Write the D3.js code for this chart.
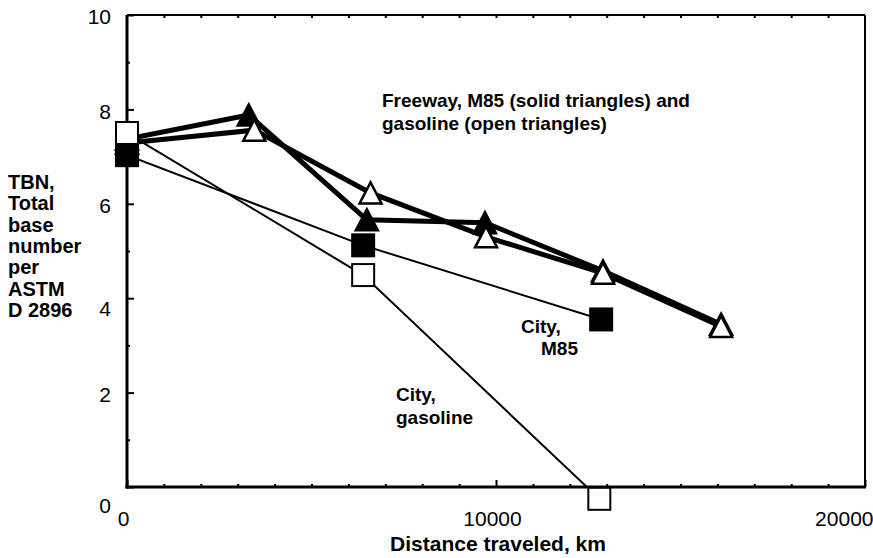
<!DOCTYPE html>
<html>
<head>
<meta charset="utf-8">
<script src="https://cdn.jsdelivr.net/npm/d3@7"></script>
<style>
  html, body { margin: 0; padding: 0; background: #fff; }
  svg { display: block; font-family: "Liberation Sans", Arial, sans-serif; }
</style>
</head>
<body>
<div id="chart"></div>
<script>
// TBN vs distance, four test series
const distM85Fwy = [0, 3300, 6500, 9700, 12900, 16100];
const tbnM85Fwy = [7.37, 7.88, 5.66, 5.6, 4.58, 3.45];
const distGasFwy = [0, 3450, 6600, 9730, 12900, 16100];
const tbnGasFwy = [7.29, 7.56, 6.23, 5.3, 4.53, 3.4];
const distM85City = [0, 6400, 12850];
const tbnM85City = [7.03, 5.12, 3.55];
const distGasCity = [0, 6400, 12800];
const tbnGasCity = [7.5, 4.49, -0.25];

const xTicks = [0, 10000, 20000];
const yTicks = [0, 2, 4, 6, 8, 10];
const yTitle = ['TBN,', 'Total', 'base', 'number', 'per', 'ASTM', 'D 2896'];
const xTitle = 'Distance traveled, km';

const width = 873, height = 558;
const plot = { left: 127, right: 865, top: 15, bottom: 487 };

const svg = d3.select('#chart').append('svg')
  .attr('width', width)
  .attr('height', height);

const x = d3.scaleLinear().domain([0, 20000]).range([plot.left, plot.right]);
const y = d3.scaleLinear().domain([0, 10]).range([plot.bottom, plot.top]);

const zip = (xs, ys) => xs.map((d, i) => [d, ys[i]]);

svg.append('clipPath').attr('id', 'clip')
  .append('rect')
  .attr('x', plot.left).attr('y', plot.top)
  .attr('width', plot.right - plot.left)
  .attr('height', plot.bottom - plot.top);

// minor ticks
const minorX = d3.range(0, 20001, 1000).filter(d => !xTicks.includes(d));
const minorY = d3.range(0, 11, 1).filter(d => !yTicks.includes(d));

svg.append('g')
  .attr('transform', `translate(0,${plot.bottom})`)
  .call(d3.axisBottom(x).tickValues(minorX).tickSize(-3).tickFormat(''))
  .call(g => g.select('.domain').remove());

svg.append('g')
  .attr('transform', `translate(0,${plot.top})`)
  .call(d3.axisTop(x).tickValues(d3.range(1000, 20000, 1000)).tickSize(-3).tickFormat(''))
  .call(g => g.select('.domain').remove());

svg.append('g')
  .attr('transform', `translate(${plot.left},0)`)
  .call(d3.axisLeft(y).tickValues(minorY).tickSize(-3).tickFormat(''))
  .call(g => g.select('.domain').remove());

// major ticks with labels
const xAxis = svg.append('g')
  .attr('transform', `translate(0,${plot.bottom})`)
  .call(d3.axisBottom(x).tickValues(xTicks).tickSize(-7).tickSizeOuter(0).tickPadding(24).tickFormat(d3.format('d')));
xAxis.select('.domain').remove();
xAxis.selectAll('text')
  .attr('text-anchor', d => d === 20000 ? 'end' : 'middle')
  .attr('dx', d => d === 20000 ? 8 : -4)
  .attr('font-size', '21px')
  .attr('font-family', '"Liberation Sans", Arial, sans-serif')
  .attr('fill', '#000');

const yAxis = svg.append('g')
  .attr('transform', `translate(${plot.left},0)`)
  .call(d3.axisLeft(y).tickValues(yTicks).tickSize(-7).tickSizeOuter(0).tickPadding(16));
yAxis.select('.domain').remove();
yAxis.selectAll('text')
  .attr('dy', d => d === 0 ? '1.2em' : (d === 4 ? '0.8em' : '0.42em'))
  .attr('font-size', '21px')
  .attr('font-family', '"Liberation Sans", Arial, sans-serif')
  .attr('fill', '#000');

svg.selectAll('.tick line').attr('stroke', '#000').attr('stroke-width', 2);

// frame
svg.append('line')
  .attr('x1', plot.left).attr('x2', plot.right)
  .attr('y1', plot.top).attr('y2', plot.top)
  .attr('stroke', '#000').attr('stroke-width', 2);
svg.append('line')
  .attr('x1', plot.right).attr('x2', plot.right)
  .attr('y1', plot.top).attr('y2', plot.bottom)
  .attr('stroke', '#000').attr('stroke-width', 2);
svg.append('line')
  .attr('x1', plot.left).attr('x2', plot.left)
  .attr('y1', plot.top).attr('y2', plot.bottom + 1.5)
  .attr('stroke', '#000').attr('stroke-width', 3);
svg.append('line')
  .attr('x1', plot.left - 1.5).attr('x2', plot.right + 1)
  .attr('y1', plot.bottom).attr('y2', plot.bottom)
  .attr('stroke', '#000').attr('stroke-width', 3);

const line = d3.line().x(d => x(d[0])).y(d => y(d[1]));
const marks = svg.append('g');

function drawLine(pts, w) {
  marks.append('path')
    .datum(pts)
    .attr('clip-path', 'url(#clip)')
    .attr('d', line)
    .attr('fill', 'none')
    .attr('stroke', '#000')
    .attr('stroke-width', w)
    .attr('stroke-linejoin', 'miter');
}

function drawTriangles(pts, fill) {
  const w = 22, h = 21;
  marks.selectAll(null)
    .data(pts)
    .enter()
    .append('path')
    .attr('d', d => {
      const cx = x(d[0]), cy = y(d[1]);
      return `M${cx},${cy - h / 2}L${cx + w / 2},${cy + h / 2}L${cx - w / 2},${cy + h / 2}Z`;
    })
    .attr('fill', fill)
    .attr('stroke', '#000')
    .attr('stroke-width', 2.5)
    .attr('stroke-linejoin', 'miter');
}

function drawSquares(pts, fill) {
  const s = 22;
  marks.selectAll(null)
    .data(pts)
    .enter()
    .append('rect')
    .attr('x', d => x(d[0]) - s / 2)
    .attr('y', d => y(d[1]) - s / 2)
    .attr('width', s)
    .attr('height', s)
    .attr('fill', fill)
    .attr('stroke', '#000')
    .attr('stroke-width', 2);
}

const m85Fwy = zip(distM85Fwy, tbnM85Fwy);
const gasFwy = zip(distGasFwy, tbnGasFwy);
const m85City = zip(distM85City, tbnM85City);
const gasCity = zip(distGasCity, tbnGasCity);

drawLine(m85Fwy, 5);
drawTriangles(m85Fwy, '#000');
drawLine(gasFwy, 5);
drawTriangles(gasFwy, '#fff');
drawLine(m85City, 2);
drawLine(gasCity, 2);
drawSquares(m85City, '#000');
drawSquares(gasCity, '#fff');

// annotations
function label(lines, x0, y0, step, size) {
  const t = svg.append('text')
    .attr('font-size', size)
    .attr('font-weight', 'bold')
    .attr('fill', '#000');
  lines.forEach((s, i) => {
    t.append('tspan').attr('x', x0).attr('y', y0 + i * step).text(s);
  });
}

label(['Freeway, M85 (solid triangles) and', 'gasoline (open triangles)'], 382, 107, 23, '19px');
label(['City,'], 521, 333, 20, '19px');
label(['M85'], 541, 355, 20, '19px');
label(['City,', 'gasoline'], 396, 401, 23, '19px');
label(yTitle, 8, 189, 21.3, '20px');

svg.append('text')
  .attr('x', 498)
  .attr('y', 551)
  .attr('text-anchor', 'middle')
  .attr('font-size', '21px')
  .attr('font-weight', 'bold')
  .attr('fill', '#000')
  .text(xTitle);
</script>
</body>
</html>
